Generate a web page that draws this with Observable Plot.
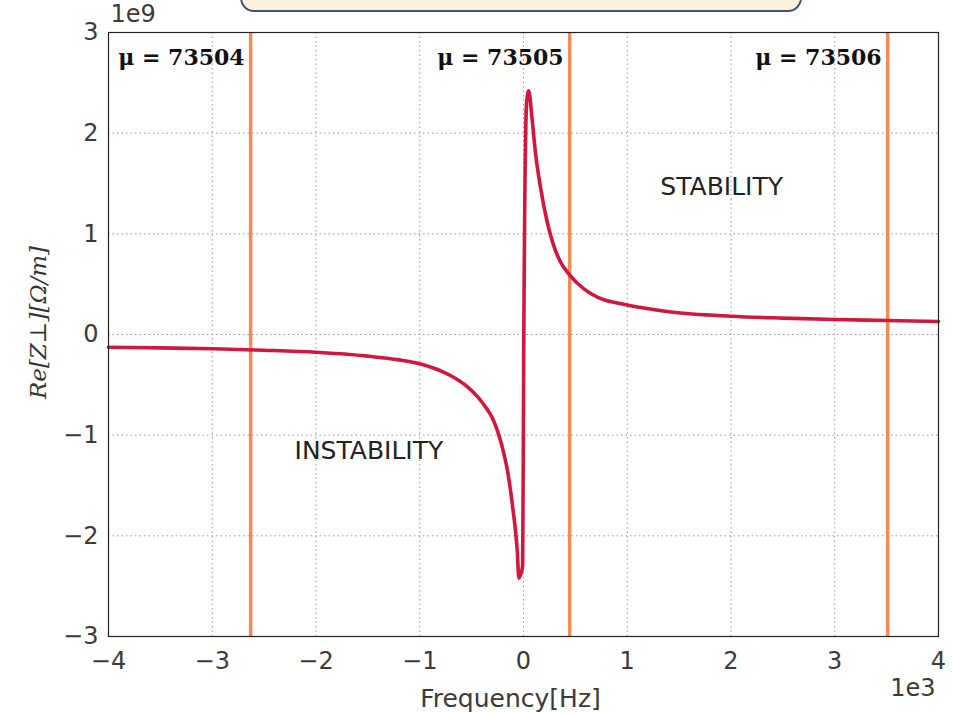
<!DOCTYPE html>
<html>
<head>
<meta charset="utf-8">
<script src="https://cdn.jsdelivr.net/npm/d3@7"></script>
<script src="https://cdn.jsdelivr.net/npm/@observablehq/plot@0.6"></script>
<style>
  html, body { margin: 0; padding: 0; background: #fff; }
  #wrap { position: relative; width: 953px; height: 714px; overflow: hidden; }
  #topbox { position: absolute; left: 240px; top: -22px; width: 558px; height: 30px;
            border: 2px solid #3d5478; border-radius: 14px; background: #fdf3dc; }
</style>
</head>
<body>
<div id="wrap"><div id="topbox"></div></div>
<script>
// Frequency [Hz] and Re[Z⊥] [Ω/m]
const freqHz = [-4000, -3500, -3000, -2500, -2000, -1500, -1200, -1000, -850, -700, -540, -450, -380, -300, -250, -190, -150, -125, -100, -77, -60, -45, -8, 3, 30, 50, 84, 116, 164, 228, 292, 357, 446, 580, 660, 774, 880, 1000, 1130, 1420, 2000, 2500, 3000, 3500, 4000];
const reZ = [-0.126e9, -0.133e9, -0.142e9, -0.156e9, -0.176e9, -0.215e9, -0.252e9, -0.290e9, -0.34e9, -0.41e9, -0.52e9, -0.61e9, -0.70e9, -0.83e9, -0.96e9, -1.18e9, -1.38e9, -1.55e9, -1.75e9, -1.95e9, -2.15e9, -2.42e9, -2.30e9, 0, 2.3e9, 2.42e9, 2.13e9, 1.80e9, 1.46e9, 1.12e9, 0.88e9, 0.72e9, 0.59e9, 0.455e9, 0.40e9, 0.345e9, 0.317e9, 0.293e9, 0.268e9, 0.224e9, 0.182e9, 0.163e9, 0.149e9, 0.139e9, 0.129e9];

// Vertical lines for the tunes
const muFreq = [-2630, 445, 3510];
const muLabels = ["μ = 73504", "μ = 73505", "μ = 73506"];

// Tick values
const xTicks = [-4000, -3000, -2000, -1000, 0, 1000, 2000, 3000, 4000];
const yTicks = [-3e9, -2e9, -1e9, 0, 1e9, 2e9, 3e9];

// Region annotations
const regions = [
  {label: "STABILITY", f: 1910, z: 1.47e9},
  {label: "INSTABILITY", f: -1490, z: -1.16e9}
];

const data = freqHz.map((f, i) => ({f, z: reZ[i]}));
const mu = muFreq.map((f, i) => ({f, label: muLabels[i]}));

const sansFont = "'DejaVu Sans', sans-serif";
const serifFont = "'DejaVu Serif', 'Liberation Serif', serif";
const fmt = d3.format("d");

const chart = Plot.plot({
  width: 953,
  height: 714,
  marginLeft: 108,
  marginRight: 15,
  marginTop: 32,
  marginBottom: 78,
  style: {fontFamily: sansFont, fontSize: "24px", color: "#3a3a3a", background: "white"},
  x: {domain: [-4000, 4000]},
  y: {domain: [-3e9, 3e9]},
  marks: [
    Plot.gridX(xTicks, {stroke: "#8a8a8a", strokeOpacity: 0.9, strokeDasharray: "1.5,3"}),
    Plot.gridY(yTicks, {stroke: "#8a8a8a", strokeOpacity: 0.9, strokeDasharray: "1.5,3"}),
    Plot.axisX(xTicks, {tickSize: 0, tickPadding: 15, tickFormat: d => fmt(d / 1000), label: null, fontSize: 24}),
    Plot.axisY(yTicks, {tickSize: 0, tickPadding: 10, tickFormat: d => fmt(d / 1e9), label: null, fontSize: 24}),
    Plot.ruleX(mu, {x: "f", stroke: "#f58a52", strokeWidth: 3.5}),
    Plot.line(data, {x: "f", y: "z", stroke: "#d2173f", strokeWidth: 3.6, curve: "monotone-x"}),
    Plot.text(mu, {x: "f", y: 2.75e9, text: "label", textAnchor: "end", dx: -6,
      fontFamily: serifFont, fontWeight: "bold", fontSize: 22, fill: "#111"}),
    Plot.text(regions, {x: "f", y: "z", text: "label", fontFamily: sansFont, fontSize: 25, fill: "#222"}),
    Plot.frame({stroke: "#222", strokeWidth: 1.2}),
    Plot.text(["1e9"], {frameAnchor: "top-left", dx: 2, dy: -28, fontSize: 24, fill: "#3a3a3a"}),
    Plot.text(["1e3"], {frameAnchor: "bottom-right", dx: -3, dy: 59, fontSize: 24, fill: "#3a3a3a"}),
    Plot.text(["Frequency[Hz]"], {frameAnchor: "bottom", dx: -13, dy: 70, fontSize: 25, fill: "#3a3a3a"}),
    Plot.text(["Re[Z⊥][Ω/m]"], {frameAnchor: "left", textAnchor: "middle", dx: -70, dy: -12, rotate: -90,
      fontFamily: serifFont, fontStyle: "italic", fontSize: 23, fill: "#333"})
  ]
});

document.getElementById("wrap").appendChild(chart);
</script>
</body>
</html>
